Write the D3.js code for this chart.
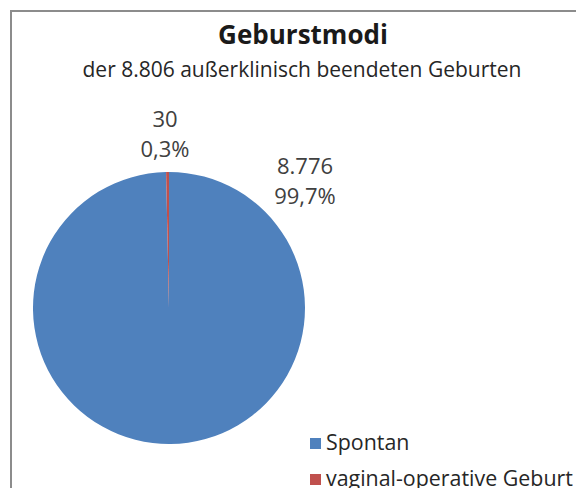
<!DOCTYPE html>
<html><head><meta charset="utf-8">
<script src="https://cdn.jsdelivr.net/npm/d3@7"></script>
<style>html,body{margin:0;padding:0;background:#fff;}svg{display:block;}</style>
</head><body>
<script>
const categories = ["Spontan", "vaginal-operative Geburt"];
const values = [8776, 30];
const valueLabels = ["8.776", "30"];
const percentLabels = ["99,7%", "0,3%"];
const colors = ["#4F81BD", "#C0504D"];
const title = "Geburstmodi";
const subtitle = "der 8.806 außerklinisch beendeten Geburten";

const W = 576, H = 488;
const font = "'Open Sans', Lato, sans-serif";
const svg = d3.select("body").append("svg").attr("width", W).attr("height", H);

svg.append("rect").attr("x", 11).attr("y", 11).attr("width", 620).attr("height", 520)
  .attr("fill", "#fff").attr("stroke", "#8c8c8c").attr("stroke-width", 2);

svg.append("text").attr("x", 303).attr("y", 44).attr("text-anchor", "middle")
  .attr("font-family", font).attr("font-weight", "bold").attr("font-size", 26)
  .attr("fill", "#1a1a1a").text(title);
svg.append("text").attr("x", 302).attr("y", 77).attr("text-anchor", "middle")
  .attr("font-family", font).attr("font-size", 21)
  .attr("fill", "#262626").text(subtitle);

const cx = 169, cy = 308, r = 136;
const pie = d3.pie().sort(null).value(d => d)(values);
const arc = d3.arc().innerRadius(0).outerRadius(r);
const g = svg.append("g").attr("transform", `translate(${cx},${cy})`);
g.selectAll("path").data(pie).join("path")
  .attr("d", arc).attr("fill", (d, i) => colors[i]);

// data labels (outside, best-fit positions)
const labelPos = [[136, -134], [-4, -181]];
pie.forEach((d, i) => {
  const t = g.append("text").attr("text-anchor", "middle")
    .attr("font-family", font).attr("font-size", 22).attr("fill", "#404040");
  t.append("tspan").attr("x", labelPos[i][0]).attr("y", labelPos[i][1]).text(valueLabels[i]);
  t.append("tspan").attr("x", labelPos[i][0]).attr("y", labelPos[i][1] + 29.5).text(percentLabels[i]);
});

// legend
const lg = svg.append("g").attr("transform", "translate(310,438)");
categories.forEach((c, i) => {
  lg.append("rect").attr("x", 0).attr("y", i * 36).attr("width", 11).attr("height", 11).attr("fill", colors[i]);
  lg.append("text").attr("x", 16).attr("y", i * 36 + 12).attr("font-family", font)
    .attr("font-size", 21.4).attr("fill", "#262626").text(c);
});
</script>
</body></html>
